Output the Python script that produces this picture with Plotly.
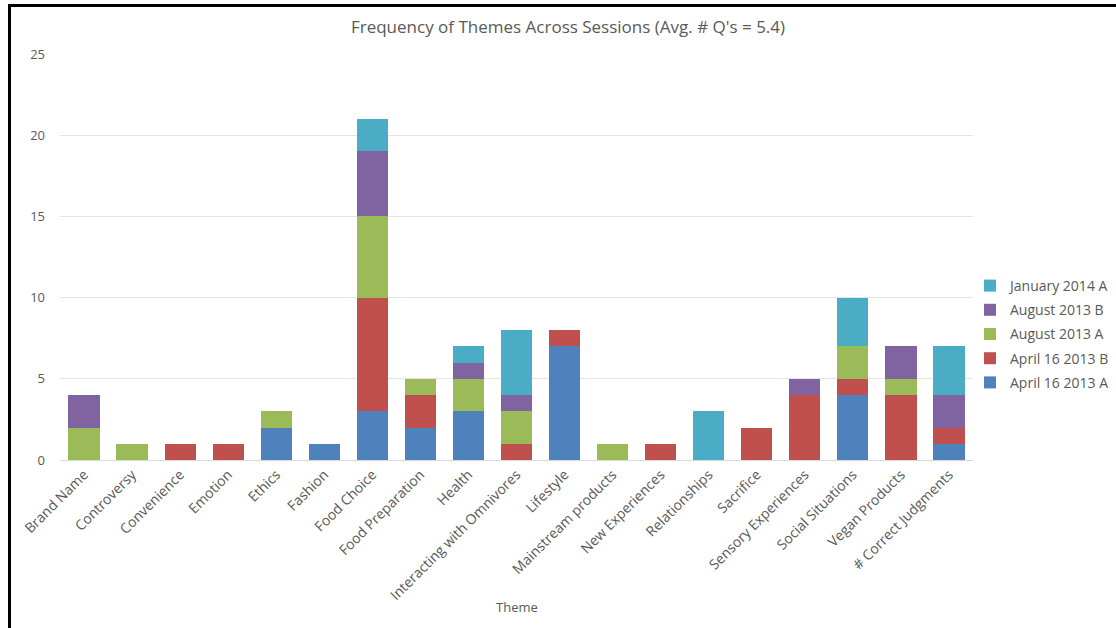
import plotly.graph_objects as go

# Themes on the x axis
themes = [
    "Brand Name", "Controversy", "Convenience", "Emotion", "Ethics", "Fashion",
    "Food Choice", "Food Preparation", "Health", "Interacting with Omnivores",
    "Lifestyle", "Mainstream products", "New Experiences", "Relationships",
    "Sacrifice", "Sensory Experiences", "Social Situations", "Vegan Products",
    "# Correct Judgments",
]

# Counts per session (stacked bottom to top)
april16_2013_a = [0, 0, 0, 0, 2, 1, 3, 2, 3, 0, 7, 0, 0, 0, 0, 0, 4, 0, 1]
april16_2013_b = [0, 0, 1, 1, 0, 0, 7, 2, 0, 1, 1, 0, 1, 0, 2, 4, 1, 4, 1]
august_2013_a = [2, 1, 0, 0, 1, 0, 5, 1, 2, 2, 0, 1, 0, 0, 0, 0, 2, 1, 0]
august_2013_b = [2, 0, 0, 0, 0, 0, 4, 0, 1, 1, 0, 0, 0, 0, 0, 1, 0, 2, 2]
january_2014_a = [0, 0, 0, 0, 0, 0, 2, 0, 1, 4, 0, 0, 0, 3, 0, 0, 3, 0, 3]

series = [
    ("April 16 2013 A", april16_2013_a, "#4F81BD"),
    ("April 16 2013 B", april16_2013_b, "#C0504D"),
    ("August 2013 A", august_2013_a, "#9BBB59"),
    ("August 2013 B", august_2013_b, "#8064A2"),
    ("January 2014 A", january_2014_a, "#4BACC6"),
]

y_ticks = [0, 5, 10, 15, 20, 25]

W, H = 1116, 628
ML, MR, MT, MB = 60, 143, 54, 168
PW, PH = W - ML - MR, H - MT - MB

def px_x(p):
    return (p - ML) / PW

def px_y(q):
    return (H - MB - q) / PH

FONT = "Open Sans"
GREY = "#595959"

fig = go.Figure()
for i, (name, vals, color) in enumerate(series):
    fig.add_trace(go.Bar(
        x=themes, y=vals, name=name, legendgroup=name,
        legendrank=len(series) - i,  # newest session listed first
        marker=dict(color=color, line=dict(width=0)),
    ))

fig.update_layout(
    width=W, height=H,
    margin=dict(l=ML, r=MR, t=MT, b=MB, autoexpand=False),
    barmode="stack",
    bargap=0.35,
    paper_bgcolor="white",
    plot_bgcolor="white",
    font=dict(family=FONT, color=GREY),
    title=dict(
        text="Frequency of Themes Across Sessions (Avg. # Q's = 5.4)",
        font=dict(family=FONT, size=17, color=GREY),
        xref="paper", x=px_x(568), xanchor="center",
        yref="container", y=1 - 27 / H, yanchor="middle",
    ),
    legend=dict(
        x=px_x(970), xanchor="left",
        y=px_y(334), yanchor="middle",
        traceorder="grouped",
        tracegroupgap=3,
        font=dict(family=FONT, size=14, color=GREY),
        bgcolor="rgba(0,0,0,0)",
        borderwidth=0,
        itemclick=False,
    ),
    xaxis=dict(
        tickangle=-45,
        tickfont=dict(family=FONT, size=14, color=GREY),
        showgrid=False,
        showline=True, linecolor="#d9d9d9", linewidth=1,
        ticks="",
    ),
    yaxis=dict(
        range=[0, 25],
        tickvals=y_ticks,
        tickfont=dict(family=FONT, size=13, color=GREY),
        showgrid=True, gridcolor="#e4e4e4", gridwidth=1,
        zeroline=False,
        showline=False,
        ticks="",
        ticklabelstandoff=14,
    ),
    annotations=[dict(
        text="Theme", xref="paper", yref="paper",
        x=px_x(517), y=px_y(607), xanchor="center", yanchor="middle",
        showarrow=False, font=dict(family=FONT, size=13, color=GREY),
    )],
    shapes=[
        # frame edges
        dict(type="line", xref="paper", yref="paper", layer="above",
             x0=px_x(9.5), x1=px_x(9.5), y0=px_y(H), y1=px_y(4),
             line=dict(color="black", width=3)),
        dict(type="line", xref="paper", yref="paper", layer="above",
             x0=px_x(8), x1=px_x(W), y0=px_y(5.5), y1=px_y(5.5),
             line=dict(color="black", width=3)),
    ],
)

fig.write_html("out.html")
